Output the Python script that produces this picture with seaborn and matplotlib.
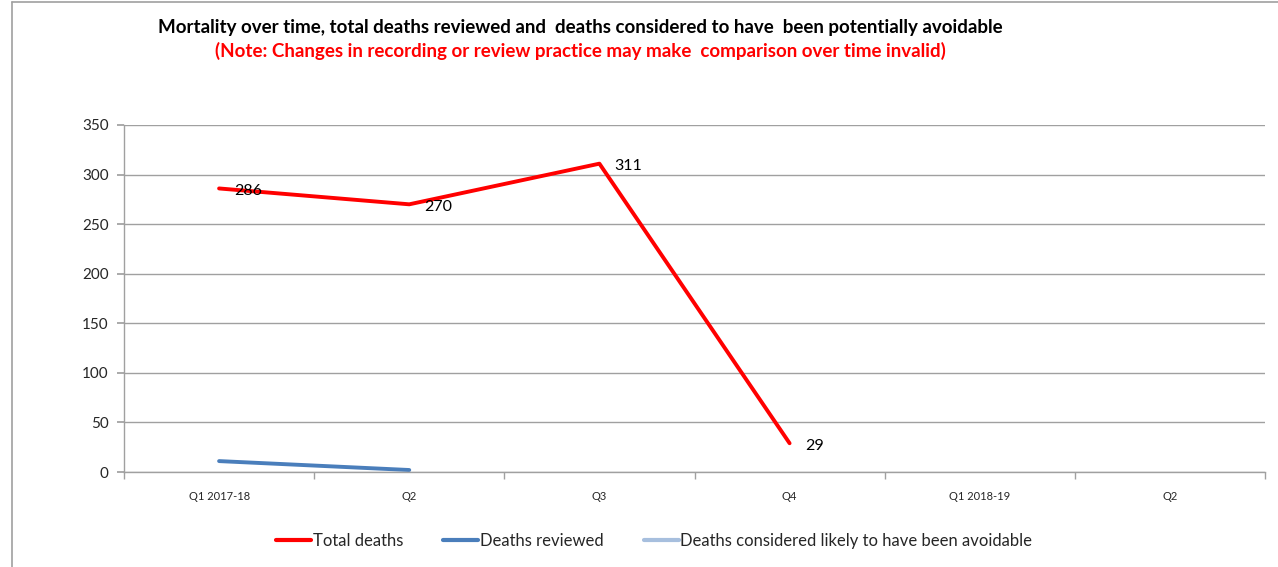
import numpy as np
import pandas as pd
import matplotlib
matplotlib.use("Agg")
import matplotlib.pyplot as plt
from matplotlib.lines import Line2D
import seaborn as sns

categories = ["Q1 2017-18", "Q2", "Q3", "Q4", "Q1 2018-19", "Q2"]
total_deaths = [286, 270, 311, 29, np.nan, np.nan]
deaths_reviewed = [11, 2, np.nan, np.nan, np.nan, np.nan]
deaths_avoidable = [np.nan] * 6
series_names = ["Total deaths", "Deaths reviewed", "Deaths considered likely to have been avoidable"]
colors = ["#FF0000", "#4A7EBB", "#A7BFDE"]

sns.set_theme(style="white")
plt.rcParams['font.family'] = ['Lato', 'DejaVu Sans']

fig = plt.figure(figsize=(12.78, 5.67), dpi=100)
ax = fig.add_axes([124/1278, 1-472/567, (1265-124)/1278, (472-125)/567])

idx = np.arange(len(categories))
for name, vals, c in zip(series_names, [total_deaths, deaths_reviewed, deaths_avoidable], colors):
    df = pd.DataFrame({"x": idx, "y": vals}).dropna()
    if len(df):
        sns.lineplot(data=df, x="x", y="y", ax=ax, color=c, linewidth=2.8, legend=False)

# data labels for total deaths
for i, v in enumerate(total_deaths):
    if not np.isnan(v):
        ax.annotate(f"{int(v)}", (i, v), xytext=(11, -2), textcoords="offset points",
                    ha="left", va="center", fontsize=11.5, color="black")

ax.set_xlim(-0.5, len(categories) - 0.5)
ax.set_ylim(0, 350)
ax.set_yticks(np.arange(0, 351, 50))
ax.set_xticks(idx)
ax.set_xticklabels(categories, fontsize=8)
ax.set_xticks(np.arange(-0.5, len(categories), 1), minor=True)
ax.tick_params(axis="x", which="major", length=0, pad=14)
ax.tick_params(axis="x", which="minor", length=5, color="#A0A0A0", direction="out", bottom=True)
ax.tick_params(axis="y", labelsize=11, length=5, color="#A0A0A0", direction="out", left=True, pad=6)
ax.set_xlabel("")
ax.set_ylabel("")
ax.grid(axis="y", color="#A0A0A0", linewidth=1)
ax.set_axisbelow(True)
for s in ["top", "right"]:
    ax.spines[s].set_visible(False)
for s in ["left", "bottom"]:
    ax.spines[s].set_color("#A0A0A0")
    ax.spines[s].set_linewidth(1)

handles = [Line2D([0], [0], color=c, linewidth=3) for c in colors]
fig.legend(handles, series_names, loc="center", bbox_to_anchor=(0.512, 1-541/567), ncol=3,
           frameon=False, fontsize=12, handlelength=2.1, handletextpad=0.1, columnspacing=2.4)

fig.text(580/1278, 1-27/567, "Mortality over time, total deaths reviewed and  deaths considered to have  been potentially avoidable",
         ha="center", va="center", fontsize=13.5, fontweight="bold", color="black")
fig.text(580/1278, 1-51/567, "(Note: Changes in recording or review practice may make  comparison over time invalid)",
         ha="center", va="center", fontsize=13.5, fontweight="bold", color="#FF0000")

# outer chart frame
fig.add_artist(Line2D([12/1278, 12/1278], [0, 1-2/567], color="#A0A0A0", linewidth=1.2, transform=fig.transFigure))
fig.add_artist(Line2D([12/1278, 1], [1-2/567, 1-2/567], color="#A0A0A0", linewidth=1.2, transform=fig.transFigure))

fig.savefig("out.png", dpi=100)
